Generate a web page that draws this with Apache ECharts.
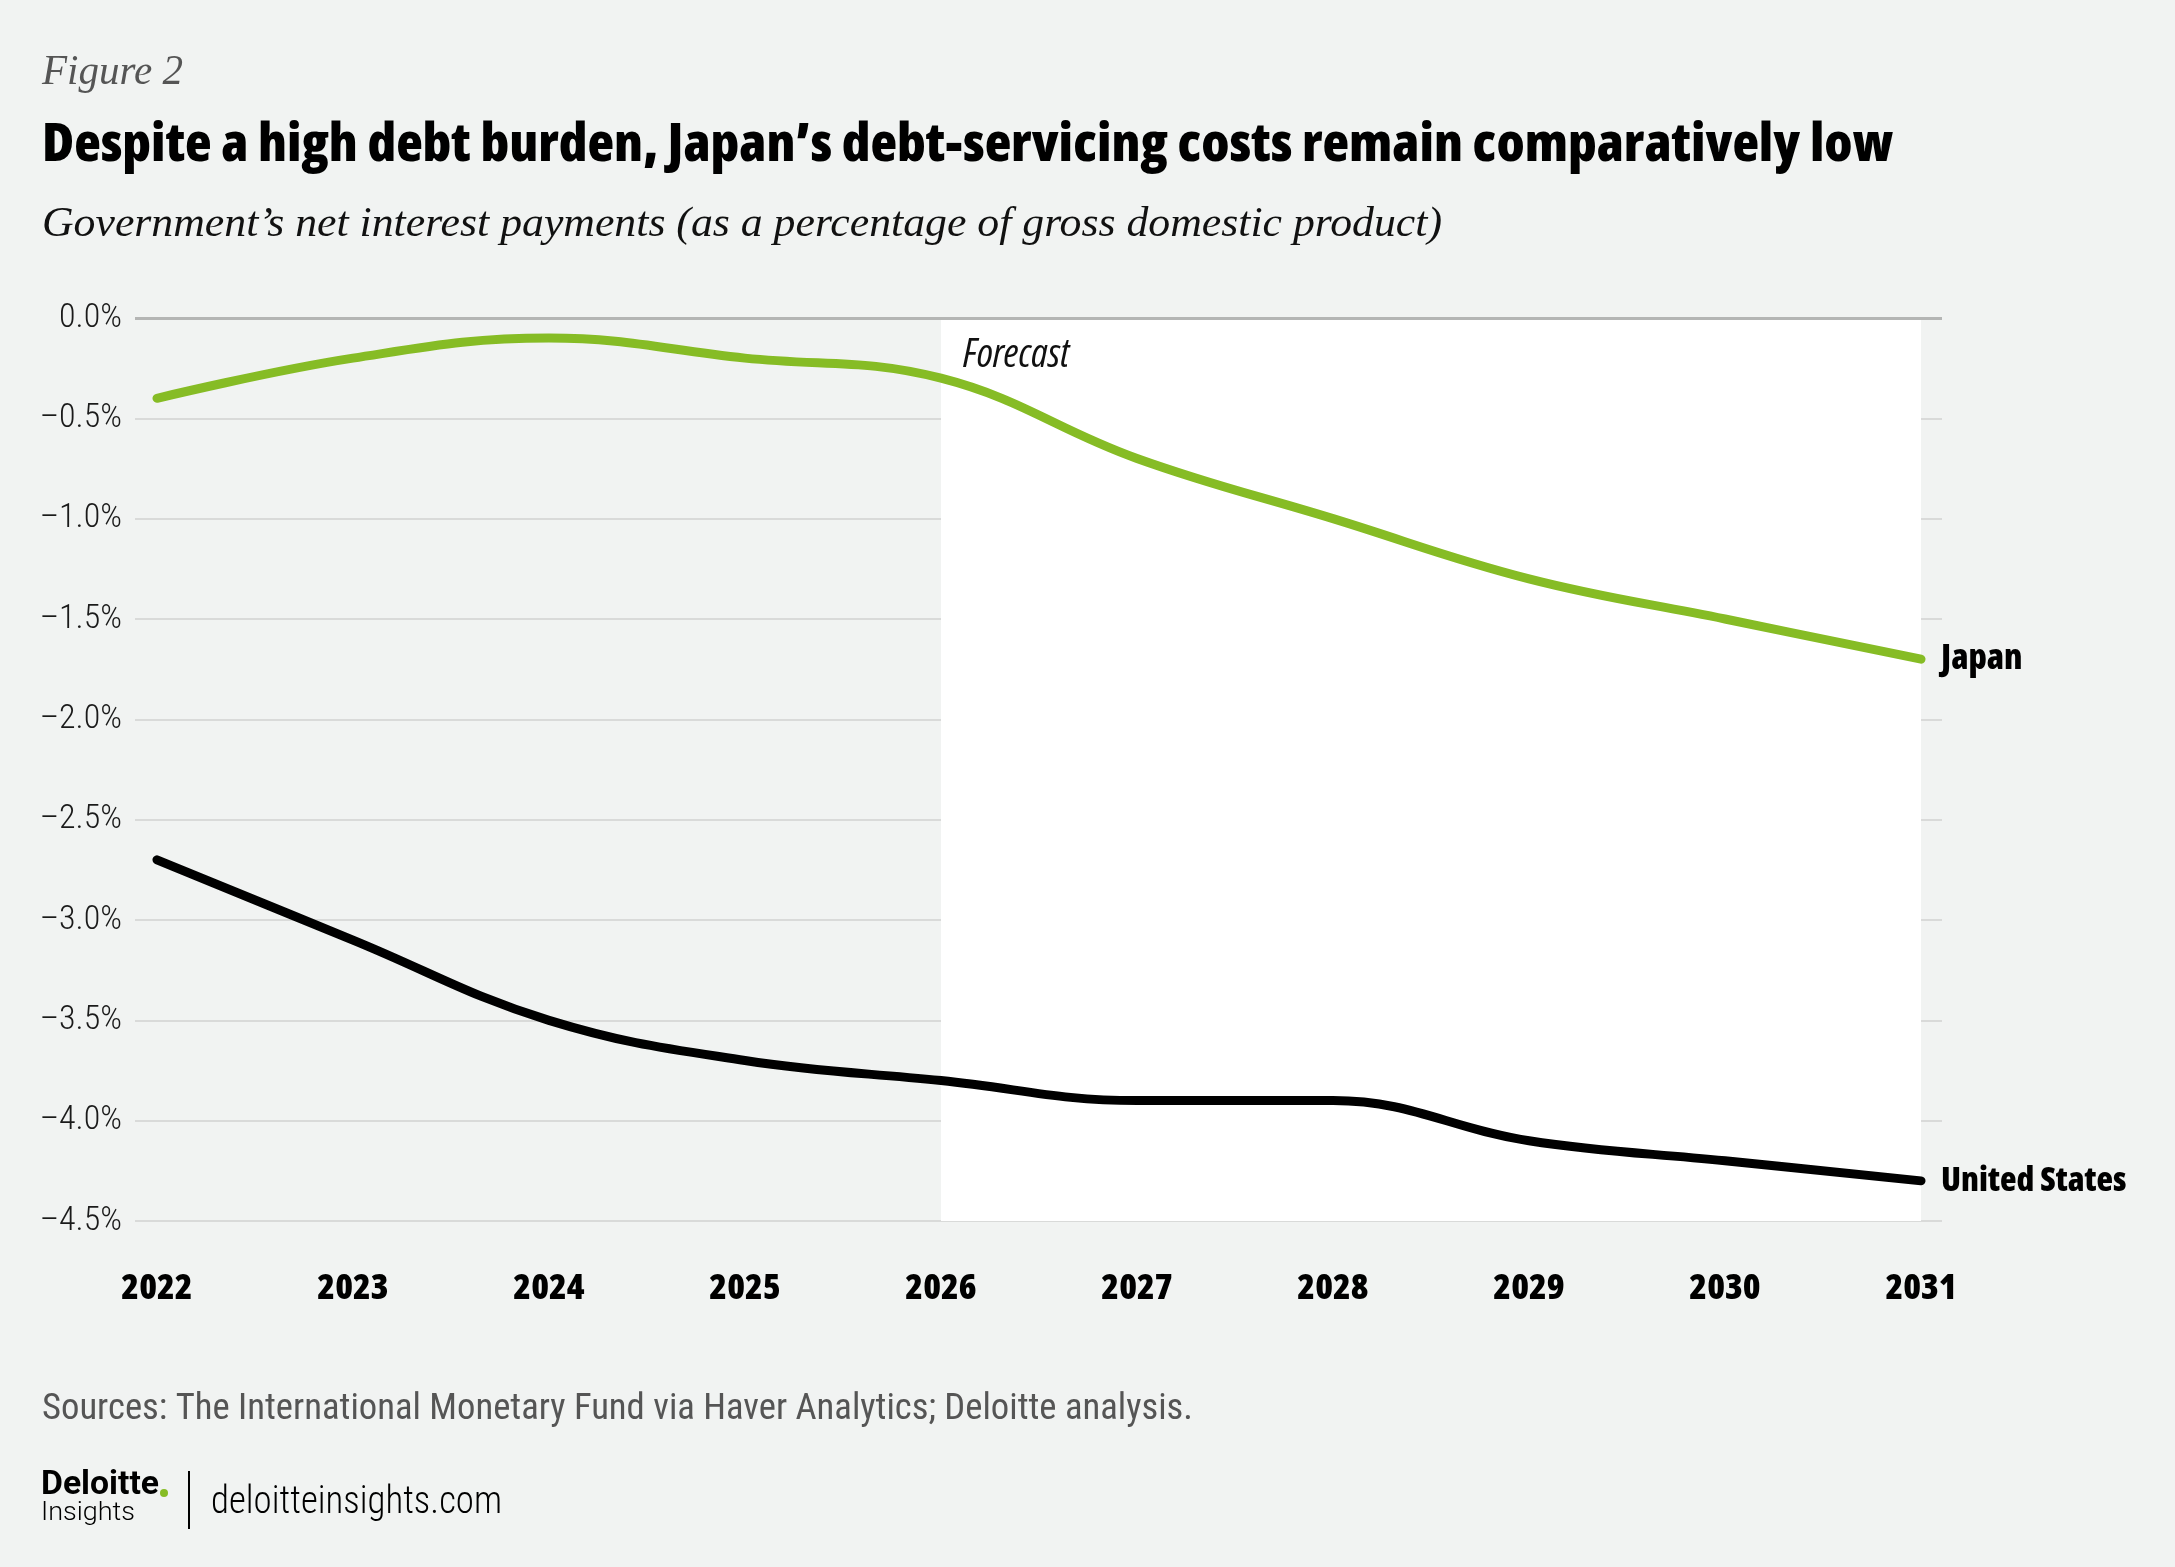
<!DOCTYPE html>
<html>
<head>
<meta charset="utf-8">
<script src="https://cdn.jsdelivr.net/npm/echarts@6/dist/echarts.min.js"></script>
<style>
html,body{margin:0;padding:0;background:#f1f3f2;}
#chart{width:2175px;height:1567px;}
</style>
</head>
<body>
<div id="chart"></div>
<script>
var years = [2022, 2023, 2024, 2025, 2026, 2027, 2028, 2029, 2030, 2031];
var japan = [-0.4, -0.2, -0.1, -0.2, -0.3, -0.7, -1.0, -1.3, -1.5, -1.7];
var us = [-2.7, -3.1, -3.5, -3.7, -3.8, -3.9, -3.9, -4.1, -4.2, -4.3];
var forecastStart = 2026;
var forecastEnd = 2031;

var figureLabel = 'Figure 2';
var titleText = 'Despite a high debt burden, Japan\u2019s debt-servicing costs remain comparatively low';
var subtitleText = 'Government\u2019s net interest payments (as a percentage of gross domestic product)';
var sourceText = 'Sources: The International Monetary Fund via Haver Analytics; Deloitte analysis.';

var OPEN = "'Open Sans'";

function pairs(vals){ return years.map(function(y,i){ return [y, vals[i]]; }); }

var mctx = document.createElement('canvas').getContext('2d');
function fit(font, text, target){ mctx.font = font; return target / mctx.measureText(text).width; }

var fFigure = "italic normal 42px 'Liberation Serif'";
var fTitle = "normal 800 condensed 53px " + OPEN;
var fSub = "italic normal 43px 'Liberation Serif'";
var fSrc = "normal 400 semi-condensed 36px Roboto";
var fDel = "normal bold 33px Roboto";
var fIns = "normal 300 26px Roboto";
var fUrl = "normal 300 condensed 38px Roboto";

var chart = echarts.init(document.getElementById('chart'), null, {renderer:'canvas'});
chart.setOption({
  backgroundColor: '#f1f3f2',
  animation: false,
  grid: {left: 135, right: 233, top: 318, bottom: 346, containLabel: false},
  xAxis: {
    type: 'value', min: 2021.888, max: 2031.107,
    axisLine: {show: false}, axisTick: {show: false}, splitLine: {show: false},
    axisLabel: {
      customValues: years, margin: 50,
      formatter: function(v){ return String(v); },
      fontFamily: OPEN, fontWeight: '800 condensed', fontSize: 36, color: '#000'
    }
  },
  yAxis: {
    type: 'value', min: -4.5, max: 0, interval: 0.5,
    axisLine: {show: false}, axisTick: {show: false},
    splitLine: {show: true, lineStyle: {color: '#d9dad9', width: 2}},
    axisLabel: {
      margin: 13, fontFamily: 'Roboto', fontWeight: '300 semi-condensed', fontSize: 34, color: '#1a1a1a',
      formatter: function(v){
        var s = Math.abs(v).toFixed(1) + '%';
        return (v < 0 ? '\u2013' : '') + s;
      }
    }
  },
  series: [
    {
      name: 'forecast', type: 'line', z: -1, silent: true,
      data: pairs(japan), showSymbol: false, lineStyle: {width: 0, opacity: 0},
      markArea: {
        silent: true,
        itemStyle: {color: '#ffffff'},
        label: {
          show: true, position: 'insideTopLeft', offset: [17, 13],
          fontFamily: OPEN, fontStyle: 'italic', fontWeight: '500 semi-condensed', fontSize: 40, color: '#111'
        },
        data: [[{xAxis: forecastStart, name: 'Forecast'}, {xAxis: forecastEnd}]]
      }
    },
    {
      name: 'Japan', type: 'line', data: pairs(japan), smooth: 0.4,
      showSymbol: false, lineStyle: {color: '#86bc25', width: 9, cap: 'round'},
      itemStyle: {color: '#86bc25'},
      endLabel: {show: true, formatter: '{a}', distance: 20,
        fontFamily: OPEN, fontWeight: '800 condensed', fontSize: 35, color: '#000'},
      markLine: {
        silent: true, symbol: 'none', label: {show: false},
        lineStyle: {color: '#b4b5b4', width: 3, type: 'solid'},
        data: [{yAxis: 0}]
      },
      z: 3
    },
    {
      name: 'United States', type: 'line', data: pairs(us), smooth: 0.4,
      showSymbol: false, lineStyle: {color: '#000000', width: 9, cap: 'round'},
      itemStyle: {color: '#000'},
      endLabel: {show: true, formatter: '{a}', distance: 20,
        fontFamily: OPEN, fontWeight: '800 condensed', fontSize: 34, color: '#000'},
      z: 3
    }
  ],
  graphic: [
    {type: 'text', x: 42, y: 73, scaleX: fit(fFigure, figureLabel, 141), style: {text: figureLabel, font: fFigure, fill: '#555', verticalAlign: 'middle'}},
    {type: 'text', x: 42, y: 146, scaleX: fit(fTitle, titleText, 1851), style: {text: titleText, font: fTitle, fill: '#000', verticalAlign: 'middle'}},
    {type: 'text', x: 42, y: 225, scaleX: fit(fSub, subtitleText, 1400), style: {text: subtitleText, font: fSub, fill: '#111', verticalAlign: 'middle'}},
    {type: 'text', x: 42, y: 1410, scaleX: fit(fSrc, sourceText, 1151), style: {text: sourceText, font: fSrc, fill: '#555', verticalAlign: 'middle'}},
    {type: 'text', x: 41, y: 1486, scaleX: fit(fDel, 'Deloitte', 118), style: {text: 'Deloitte', font: fDel, fill: '#000', verticalAlign: 'middle'}},
    {type: 'circle', shape: {cx: 164, cy: 1493, r: 4}, style: {fill: '#86bc25'}},
    {type: 'text', x: 41, y: 1513, scaleX: fit(fIns, 'Insights', 94), style: {text: 'Insights', font: fIns, fill: '#000', verticalAlign: 'middle'}},
    {type: 'line', shape: {x1: 189, y1: 1471, x2: 189, y2: 1529}, style: {stroke: '#000', lineWidth: 2}},
    {type: 'text', x: 211, y: 1503, scaleX: fit(fUrl, 'deloitteinsights.com', 291), style: {text: 'deloitteinsights.com', font: fUrl, fill: '#000', verticalAlign: 'middle'}}
  ]
});
</script>
</body>
</html>
